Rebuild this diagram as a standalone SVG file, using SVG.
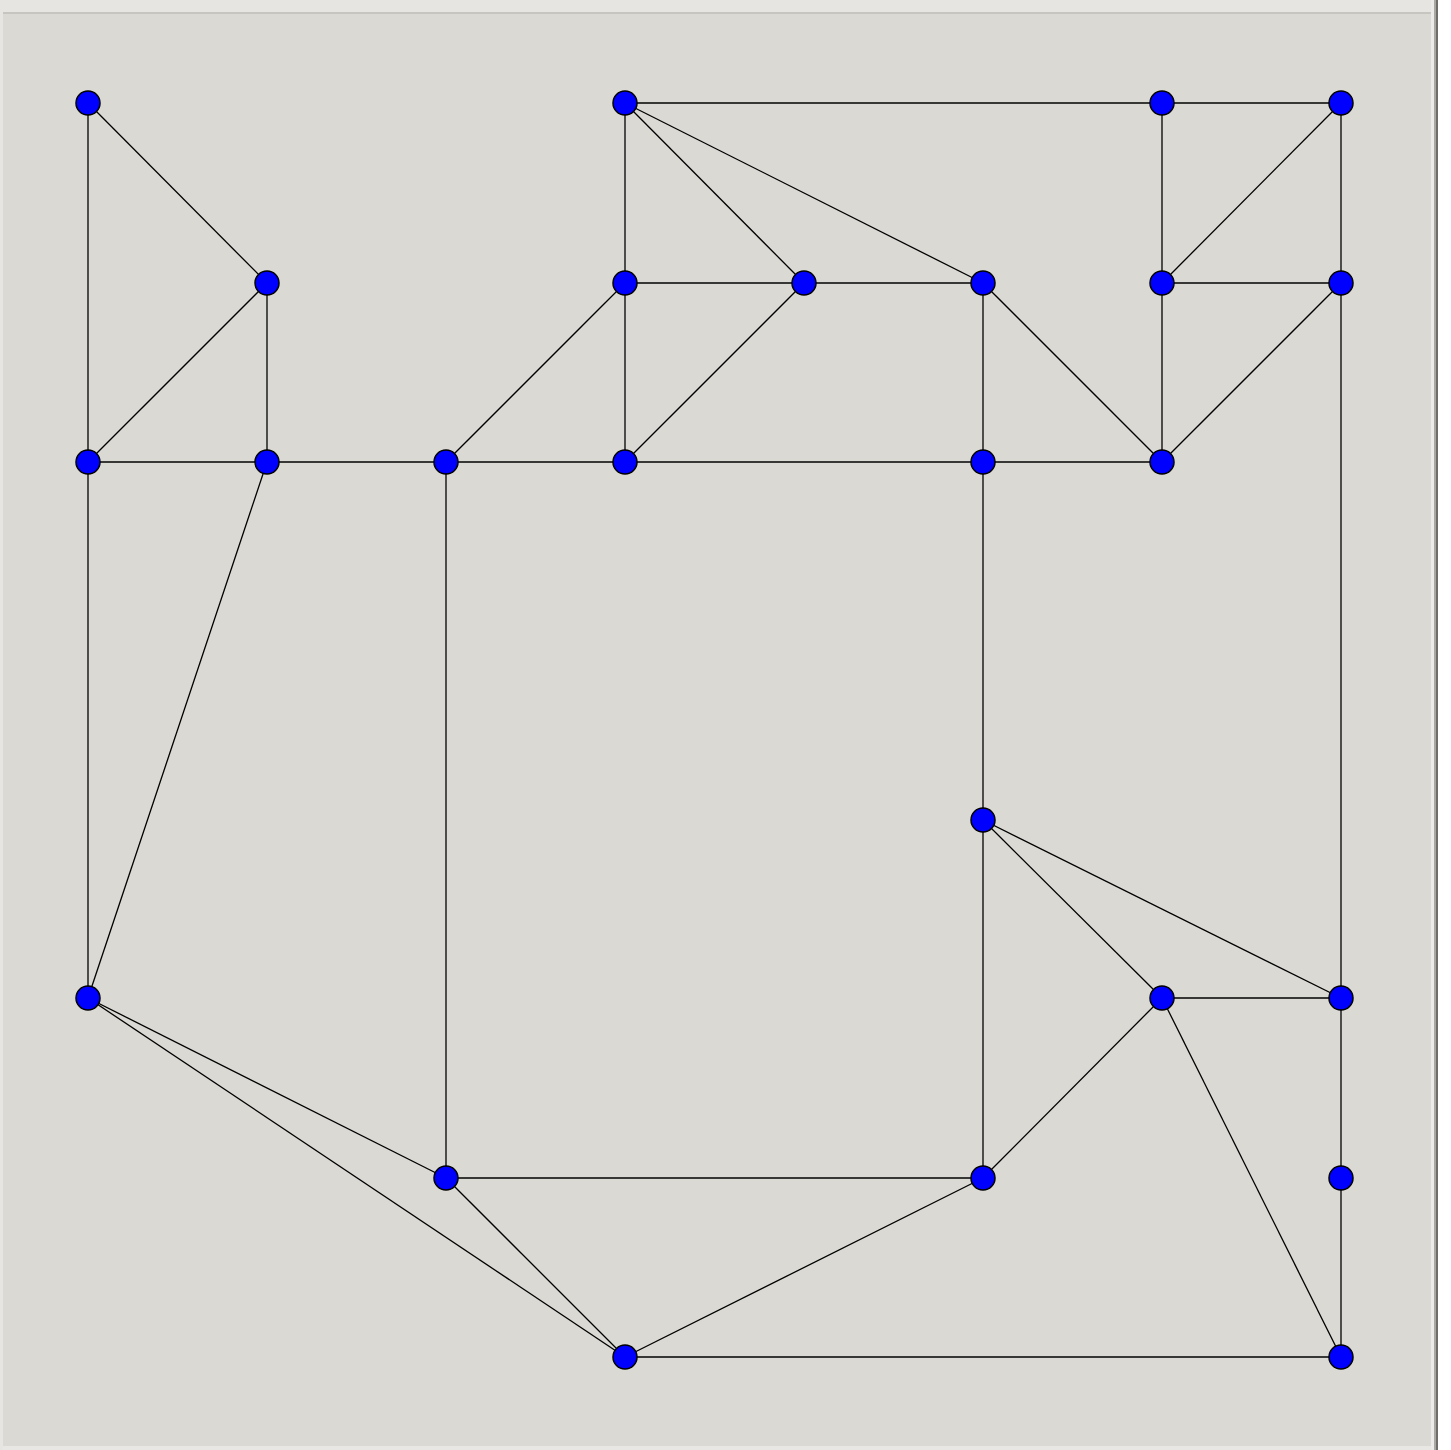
<svg xmlns="http://www.w3.org/2000/svg" width="1451" height="1450" viewBox="0 0 1451 1450">
<style>
.e{stroke:#000;stroke-width:1.3;fill:none}
.n{fill:#0000ff;stroke:#000;stroke-width:1.5}
</style>
<rect x="0" y="0" width="1451" height="1450" fill="#ffffff"/>
<rect x="0" y="0" width="1437" height="1450" fill="#dad9d4"/>
<rect x="0" y="0" width="1437" height="12" fill="#e6e5e2"/>
<rect x="3" y="12" width="1428" height="2" fill="#c6c5c0"/>
<rect x="0" y="12" width="3" height="1438" fill="#e6e5e2"/>
<rect x="1431" y="0" width="3" height="1450" fill="#ecebe9"/>
<rect x="1434" y="0" width="2" height="1450" fill="#a9a8a4"/>
<rect x="1436" y="0" width="2" height="1450" fill="#6e6d6a"/>
<rect x="3" y="1446" width="1428" height="4" fill="#e8e7e4"/>
<g id="connectors" class="e">
<line x1="88" y1="103" x2="88" y2="462"/>
<line x1="88" y1="103" x2="267" y2="283"/>
<line x1="267" y1="283" x2="267" y2="462"/>
<line x1="267" y1="283" x2="88" y2="462"/>
<line x1="88" y1="462" x2="267" y2="462"/>
<line x1="267" y1="462" x2="446" y2="462"/>
<line x1="267" y1="462" x2="88" y2="998"/>
<line x1="88" y1="462" x2="88" y2="998"/>
<line x1="446" y1="462" x2="625" y2="462"/>
<line x1="446" y1="462" x2="625" y2="283"/>
<line x1="446" y1="462" x2="446" y2="1178"/>
<line x1="625" y1="283" x2="625" y2="103"/>
<line x1="625" y1="283" x2="625" y2="462"/>
<line x1="625" y1="283" x2="804" y2="283"/>
<line x1="625" y1="103" x2="804" y2="283"/>
<line x1="625" y1="103" x2="983" y2="283"/>
<line x1="625" y1="103" x2="1162" y2="103"/>
<line x1="1162" y1="103" x2="1341" y2="103"/>
<line x1="1162" y1="103" x2="1162" y2="283"/>
<line x1="1341" y1="103" x2="1162" y2="283"/>
<line x1="1341" y1="103" x2="1341" y2="998"/>
<line x1="1162" y1="283" x2="1341" y2="283"/>
<line x1="1162" y1="283" x2="1162" y2="462"/>
<line x1="1341" y1="283" x2="1162" y2="462"/>
<line x1="804" y1="283" x2="625" y2="462"/>
<line x1="804" y1="283" x2="983" y2="283"/>
<line x1="983" y1="283" x2="983" y2="462"/>
<line x1="983" y1="283" x2="1162" y2="462"/>
<line x1="625" y1="462" x2="983" y2="462"/>
<line x1="983" y1="462" x2="1162" y2="462"/>
<line x1="983" y1="462" x2="983" y2="820"/>
<line x1="983" y1="820" x2="983" y2="1178"/>
<line x1="983" y1="820" x2="1162" y2="998"/>
<line x1="983" y1="820" x2="1341" y2="998"/>
<line x1="1162" y1="998" x2="1341" y2="998"/>
<line x1="1162" y1="998" x2="983" y2="1178"/>
<line x1="1162" y1="998" x2="1341" y2="1357"/>
<line x1="1341" y1="998" x2="1341" y2="1178"/>
<line x1="1341" y1="1178" x2="1341" y2="1357"/>
<line x1="625" y1="1357" x2="1341" y2="1357"/>
<line x1="88" y1="998" x2="446" y2="1178"/>
<line x1="88" y1="998" x2="625" y2="1357"/>
<line x1="446" y1="1178" x2="625" y2="1357"/>
<line x1="446" y1="1178" x2="983" y2="1178"/>
<line x1="983" y1="1178" x2="625" y2="1357"/>
</g>
<g id="n1"><circle class="n" cx="88" cy="103" r="12"/></g>
<g id="n2"><circle class="n" cx="267" cy="283" r="12"/></g>
<g id="n3"><circle class="n" cx="88" cy="462" r="12"/></g>
<g id="n4"><circle class="n" cx="267" cy="462" r="12"/></g>
<g id="n5"><circle class="n" cx="446" cy="462" r="12"/></g>
<g id="n6"><circle class="n" cx="625" cy="103" r="12"/></g>
<g id="n7"><circle class="n" cx="625" cy="283" r="12"/></g>
<g id="n8"><circle class="n" cx="804" cy="283" r="12"/></g>
<g id="n9"><circle class="n" cx="983" cy="283" r="12"/></g>
<g id="n10"><circle class="n" cx="625" cy="462" r="12"/></g>
<g id="n11"><circle class="n" cx="983" cy="462" r="12"/></g>
<g id="n12"><circle class="n" cx="1162" cy="103" r="12"/></g>
<g id="n13"><circle class="n" cx="1341" cy="103" r="12"/></g>
<g id="n14"><circle class="n" cx="1162" cy="283" r="12"/></g>
<g id="n15"><circle class="n" cx="1341" cy="283" r="12"/></g>
<g id="n16"><circle class="n" cx="1162" cy="462" r="12"/></g>
<g id="n17"><circle class="n" cx="983" cy="820" r="12"/></g>
<g id="n18"><circle class="n" cx="88" cy="998" r="12"/></g>
<g id="n19"><circle class="n" cx="1162" cy="998" r="12"/></g>
<g id="n20"><circle class="n" cx="1341" cy="998" r="12"/></g>
<g id="n21"><circle class="n" cx="446" cy="1178" r="12"/></g>
<g id="n22"><circle class="n" cx="983" cy="1178" r="12"/></g>
<g id="n23"><circle class="n" cx="1341" cy="1178" r="12"/></g>
<g id="n24"><circle class="n" cx="625" cy="1357" r="12"/></g>
<g id="n25"><circle class="n" cx="1341" cy="1357" r="12"/></g>
</svg>
